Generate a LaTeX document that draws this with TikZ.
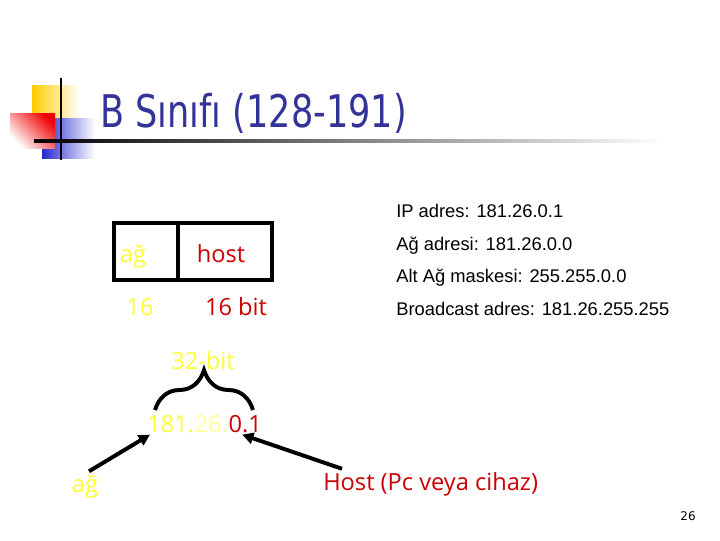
\documentclass[tikz,border=0pt]{standalone}
\usepackage{fontspec}
\usepackage{graphicx}
\setmainfont{Liberation Sans}
\newfontfamily\titlefont{DejaVu Sans}
\newfontfamily\handfont{Open Sans}
\usetikzlibrary{arrows.meta,calc,decorations.pathreplacing}
\definecolor{TitleClr}{RGB}{51,51,153}
\definecolor{NetClr}{RGB}{255,255,51}
\definecolor{NetPaleClr}{RGB}{255,255,150}
\definecolor{HostClr}{RGB}{204,0,0}
\definecolor{LogoYellow}{RGB}{255,204,0}
\definecolor{LogoBlue}{RGB}{40,40,210}
\definecolor{LogoRed}{RGB}{240,0,0}

\begin{document}
\begin{tikzpicture}[x=0.025cm,y=-0.025cm,
  hand/.style={font=\handfont\fontsize{16.8}{18}\selectfont,inner sep=0pt,anchor=base},
  info/.style={font=\fontsize{13.05}{16}\selectfont,inner sep=0pt,anchor=base west},
  thickline/.style={line width=2.8pt},
  arr/.style={thickline,-{Triangle[length=8pt,width=8pt]}}]
\useasboundingbox (0,0) rectangle (720,540);

% logo
\fill[left color=LogoYellow,middle color=LogoYellow,right color=white] (32,85) rectangle (80,118);
\fill[left color=LogoBlue,middle color=LogoBlue,right color=white] (42,118) rectangle (95,158);
\fill[top color=LogoRed,bottom color=white,shading angle=-45] (10,113) rectangle (55,148);
\fill[left color=black,right color=white] (34,139.5) rectangle (665,142.5);
\draw[line width=2.1pt] (61,78) -- (61,160);

% title
\node[anchor=base west,inner sep=0pt,text=TitleClr,font=\titlefont\fontsize{32}{36}\selectfont]
  (title) at (100,127) {\scalebox{0.78}[1]{B Sınıfı (128-191)}};

% address box
\draw[thickline] (114,223) rectangle (272,280);
\draw[thickline] (178,223) -- (178,280);
\node[hand,text=NetClr] (net) at (133,262) {ağ};
\node[hand,text=HostClr] (host) at (221,262) {host};
\node[hand,text=NetClr] (netbits) at (140,315) {16};
\node[hand,text=HostClr] (hostbits) at (236,315) {16 bit};

% addresses
\node[info] (ip) at (396,217) {IP adres: 181.26.0.1};
\node[info] (netaddr) at (396,250) {Ağ adresi: 181.26.0.0};
\node[info] (mask) at (396,282) {Alt Ağ maskesi: 255.255.0.0};
\node[info] (bcast) at (396,315) {Broadcast adres: 181.26.255.255};

% 32 bit address
\node[hand,text=NetClr] (bits) at (203,369) {32-bit};
\node[hand,anchor=base west,text=NetClr] (ipnet) at (147,432) {181.};
\node[hand,anchor=base west,text=NetPaleClr] (ipmid) at (ipnet.base east) {26.};
\node[hand,anchor=base west,text=HostClr] (iphost) at (ipmid.base east) {0.1};
\coordinate (bl) at (155,410);
\coordinate (br) at (253,410);
\draw[thickline,decorate,decoration={brace,amplitude=1cm}] (bl) -- (br);

% labels below
\node[hand,text=NetClr] (netlbl) at (85,492) {ağ};
\node[hand,anchor=base west,text=HostClr] (hostlbl) at (323,490) {Host (Pc veya cihaz)};
\draw[arr] ([shift={(4,-3)}]netlbl.north) -- ([shift={(3,2)}]ipnet.south west);
\draw[arr] ([shift={(19,-3)}]hostlbl.north west) -- ([shift={(-3,2)}]iphost.south);

\node[font=\titlefont\fontsize{8.5}{10}\selectfont,inner sep=0pt] (page) at (688,516) {26};
\end{tikzpicture}
\end{document}
